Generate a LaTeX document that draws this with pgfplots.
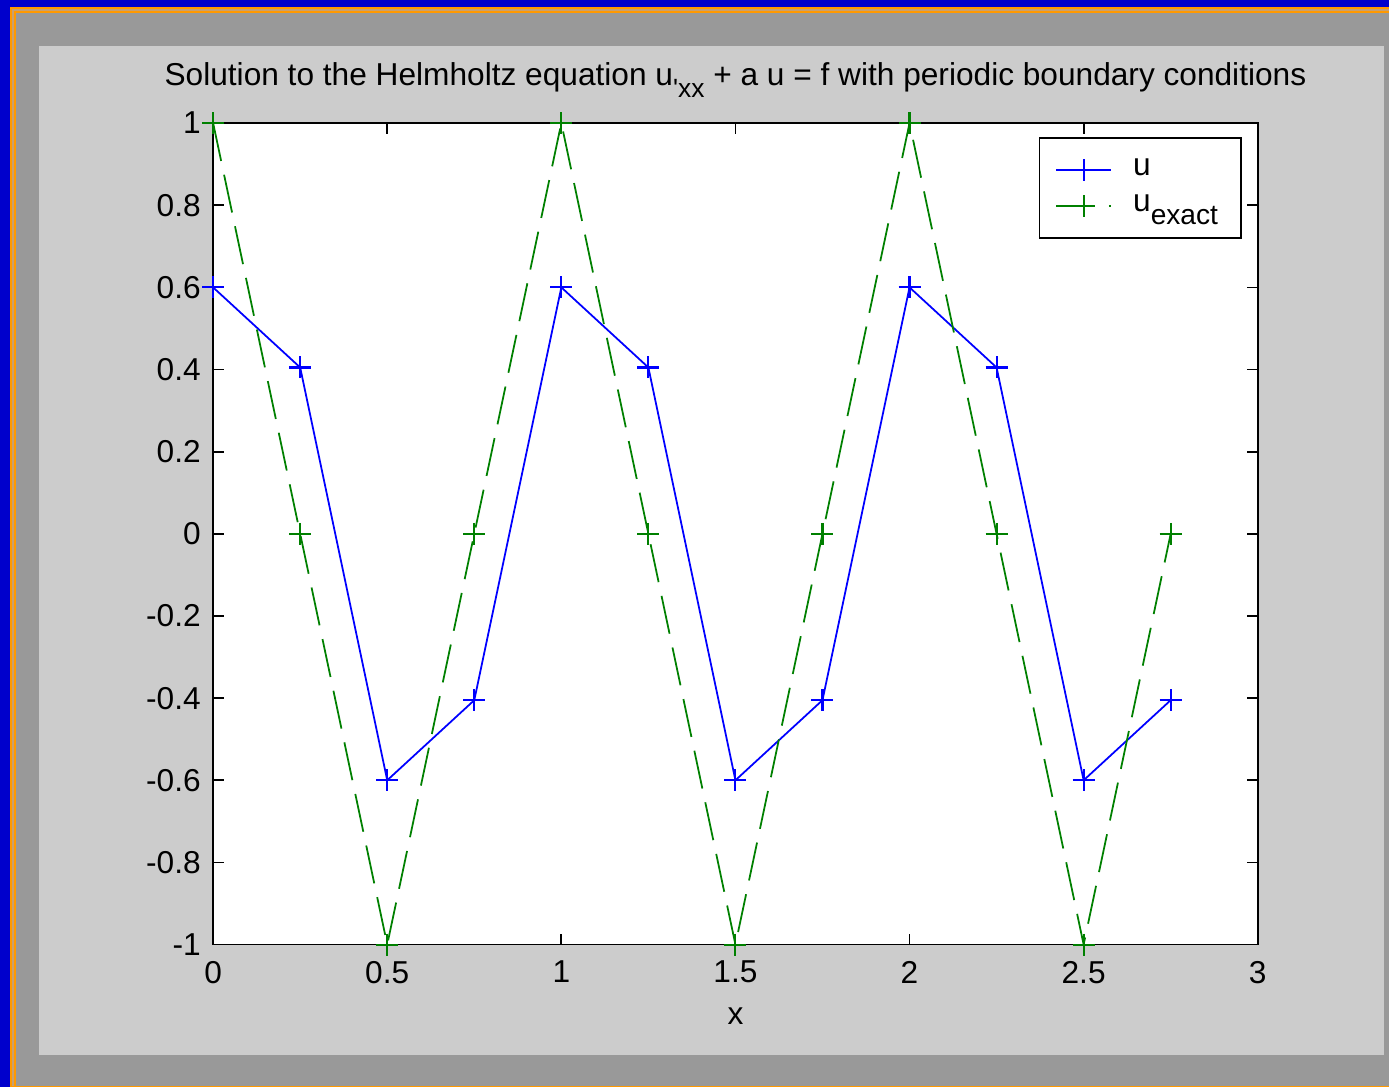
\documentclass[border=0pt]{standalone}
\usepackage{fontspec}
\setmainfont{Liberation Sans}
\usepackage{pgfplots}
\pgfplotsset{compat=1.18}

\definecolor{deskblue}{HTML}{0000CC}
\definecolor{frameorange}{HTML}{FF9900}
\definecolor{framegap}{HTML}{C8A070}
\definecolor{windowgray}{HTML}{999999}
\definecolor{panelgray}{HTML}{CCCCCC}
\definecolor{ublue}{RGB}{0,0,255}
\definecolor{ugreen}{RGB}{0,128,0}

% small lowered text for subscripts
\newcommand\sub[2][8]{\raisebox{-3.5pt}{\fontsize{#1}{#1}\selectfont #2}}

% u at the grid points x = 0, 0.25, ..., 2.75
\pgfplotstableread{
x     u
0     0.6
0.25  0.405
0.5  -0.6
0.75 -0.405
1     0.6
1.25  0.405
1.5  -0.6
1.75 -0.405
2     0.6
2.25  0.405
2.5  -0.6
2.75 -0.405
}\unum

% exact solution at the same points
\pgfplotstableread{
x     u
0     1
0.25  0
0.5  -1
0.75  0
1     1
1.25  0
1.5  -1
1.75  0
2     1
2.25  0
2.5  -1
2.75  0
}\uexact

\begin{document}
\begin{tikzpicture}[font=\fontsize{9}{11}\selectfont]
  % window frame and figure panel
  \begin{scope}[x=0.01cm,y=-0.01cm]
    \fill[deskblue] (0,0) rectangle (1389,1087);
    \fill[frameorange] (10,7) rectangle (1389,1087);
    \fill[framegap] (12,9) rectangle (1389,1086);
    \fill[frameorange] (14,11) rectangle (1389,1086);
    \fill[windowgray] (16,13) rectangle (1389,1086);
    \fill[panelgray] (39,46) rectangle (1384,1055);
  \end{scope}

  \begin{axis}[
    at={(2.13cm,-9.44cm)}, anchor=south west,
    scale only axis, width=10.44cm, height=8.21cm,
    xmin=0, xmax=3, ymin=-1, ymax=1,
    xtick={0,0.5,1,1.5,2,2.5,3},
    ytick={-1,-0.8,-0.6,-0.4,-0.2,0,0.2,0.4,0.6,0.8,1},
    /pgf/number format/assume math mode=true,
    tick align=inside,
    major tick length=0.11cm,
    tick style={black, line width=0.5pt},
    axis line style={black, line width=0.5pt},
    axis background/.style={fill=white},
    clip=false,
    xticklabel style={yshift=-0.04cm},
    every axis title shift=0pt,
    title={Solution to the Helmholtz equation u\sub[7.5]{\textquotesingle xx} + a u = f with periodic boundary conditions},
    title style={at={(0.5,1)}, anchor=base, yshift=0.38cm},
    xlabel={x},
    legend image code/.code={%
      \draw[mark repeat=2, mark phase=2, #1]
        plot coordinates {(0cm,0cm) (0.28cm,0cm) (0.55cm,0cm)};},
    legend style={at={(0.9847,0.983)}, anchor=north east,
      draw=black, line width=0.5pt, fill=white,
      inner xsep=4.5pt, inner ysep=4pt, row sep=0pt,
      /tikz/every odd column/.append style={column sep=0.14cm},
      font=\fontsize{9}{11}\selectfont},
    legend cell align=left,
  ]
    \addplot[ublue, line width=0.5pt, mark=+, mark size=0.11cm,
      mark options={line width=0.6pt}] table[x=x,y=u] {\unum};
    \addlegendentry{u}
    \addplot[ugreen, line width=0.5pt, dash pattern=on 11pt off 4pt,
      mark=+, mark size=0.11cm, mark options={solid, line width=0.6pt}]
      table[x=x,y=u] {\uexact};
    \addlegendentry{u\sub{exact}\hspace{0.16cm}}
  \end{axis}
\end{tikzpicture}
\end{document}
